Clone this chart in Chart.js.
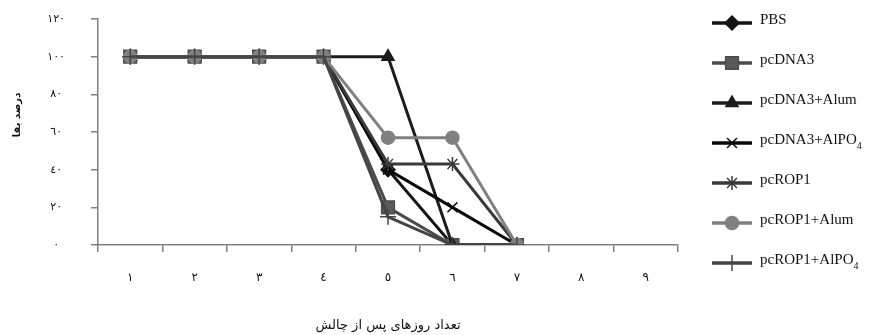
<!DOCTYPE html>
<html lang="fa">
  <head>
    <meta charset="UTF-8" />
    <title>درصد بقا</title>
    <script src="https://cdn.jsdelivr.net/npm/chart.js@4.4.1/dist/chart.umd.min.js"></script>
    <style>
      body { margin: 0; background: #fff; }
      #box { width: 869px; height: 335px; position: relative; }
    </style>
  </head>
  <body>
    <div id="box"><canvas id="grafico"></canvas></div>
    <script>
      // روزها (محور افقی)
      const days = ['١', '٢', '٣', '٤', '٥', '٦', '٧', '٨', '٩'];
      const yTicks = [0, 20, 40, 60, 80, 100, 120];

      // درصد بقا برای هر گروه
      const pbs = [100, 100, 100, 100, 40, 0, 0, null, null];
      const pcdna3 = [100, 100, 100, 100, 20, 0, 0, null, null];
      const pcdna3Alum = [100, 100, 100, 100, 100, 0, 0, null, null];
      const pcdna3Alpo4 = [100, 100, 100, 100, 40, 20, 0, null, null];
      const pcrop1 = [100, 100, 100, 100, 43, 43, 0, null, null];
      const pcrop1Alum = [100, 100, 100, 100, 57, 57, 0, null, null];
      const pcrop1Alpo4 = [100, 100, 100, 100, 15, 0, 0, null, null];

      const names = ['PBS', 'pcDNA3', 'pcDNA3+Alum', 'pcDNA3+AlPO₄', 'pcROP1', 'pcROP1+Alum', 'pcROP1+AlPO₄'];

      const yTitle = 'درصد بقا';
      const xTitle = 'تعداد روزهای پس از چالش';

      function farsi(n) {
        return String(n).replace(/[0-9]/g, d => '٠١٢٣٤٥٦٧٨٩'[d]);
      }

      function serie(i, values, color, style, radius, fill) {
        return {
          label: names[i],
          data: values,
          borderColor: color,
          backgroundColor: fill || color,
          pointBackgroundColor: fill || color,
          pointBorderColor: color,
          pointBorderWidth: 1.5,
          borderWidth: 3,
          pointStyle: style,
          pointRadius: radius,
          pointHoverRadius: radius,
          tension: 0,
          order: 6 - i,
        };
      }

      const datasets = [
        serie(0, pbs, '#141414', 'rectRot', 7),
        serie(1, pcdna3, '#4b4b4b', 'rect', 9, '#5a5a5a'),
        serie(2, pcdna3Alum, '#1c1c1c', 'triangle', 7),
        serie(3, pcdna3Alpo4, '#0a0a0a', 'crossRot', 7),
        serie(4, pcrop1, '#3a3a3a', 'star', 7),
        serie(5, pcrop1Alum, '#808080', 'circle', 6.5),
        serie(6, pcrop1Alpo4, '#454545', 'cross', 8),
      ];

      // legend + y title drawn by hand
      const extras = {
        id: 'extras',
        afterDraw(chart) {
          const ctx = chart.ctx;
          ctx.save();
          chart.data.datasets.forEach((ds, i) => {
            const y = 23 + 40 * i;
            ctx.strokeStyle = ds.borderColor;
            ctx.lineWidth = 3.5;
            ctx.beginPath();
            ctx.moveTo(712, y);
            ctx.lineTo(752, y);
            ctx.stroke();
            ctx.fillStyle = ds.pointBackgroundColor;
            ctx.strokeStyle = ds.pointBorderColor;
            ctx.lineWidth = 1.5;
            Chart.helpers.drawPoint(ctx, { pointStyle: ds.pointStyle, radius: ds.pointRadius, rotation: 0, borderWidth: 1.5 }, 732, y);
            ctx.fillStyle = '#111';
            ctx.font = '15px "Liberation Serif", serif';
            ctx.textAlign = 'left';
            ctx.textBaseline = 'middle';
            let label = ds.label;
            if (label.endsWith('₄')) {
              label = label.slice(0, -1);
              ctx.fillText(label, 760, y - 3);
              const w = ctx.measureText(label).width;
              ctx.font = '10px "Liberation Serif", serif';
              ctx.fillText('4', 760 + w, y + 3);
            } else {
              ctx.fillText(label, 760, y - 3);
            }
          });
          ctx.translate(17, 115);
          ctx.rotate(-Math.PI / 2);
          ctx.font = 'bold 10px "DejaVu Sans", sans-serif';
          ctx.fillStyle = '#111';
          ctx.textAlign = 'center';
          ctx.textBaseline = 'middle';
          ctx.fillText(yTitle, 0, 0);
          ctx.restore();
        },
      };

      new Chart(document.getElementById('grafico'), {
        type: 'line',
        data: { labels: days, datasets: datasets },
        plugins: [extras],
        options: {
          responsive: true,
          maintainAspectRatio: false,
          animation: false,
          layout: { padding: { top: 19, right: 191, left: 0, bottom: 0 } },
          plugins: { legend: { display: false }, tooltip: { enabled: false } },
          scales: {
            x: {
              offset: true,
              grid: { offset: true, drawOnChartArea: false, drawTicks: true, tickLength: 7, color: '#808080', lineWidth: 1.5 },
              border: { color: '#808080', width: 1.5 },
              ticks: { color: '#111', padding: 19, font: { family: 'DejaVu Sans', size: 12 }, autoSkip: false, maxRotation: 0 },
              title: { display: true, text: xTitle, color: '#111', padding: { top: 4, bottom: 2 }, font: { family: 'DejaVu Sans', size: 13 } },
              afterFit(scale) { scale.height = 90; },
            },
            y: {
              min: 0,
              max: 120,
              afterBuildTicks(scale) { scale.ticks = yTicks.map(v => ({ value: v })); },
              grid: { drawOnChartArea: false, drawTicks: true, tickLength: 7, color: '#808080', lineWidth: 1.5 },
              border: { color: '#808080', width: 1.5 },
              ticks: { color: '#111', padding: 26, crossAlign: 'center', font: { family: 'DejaVu Sans', size: 11 }, callback: v => farsi(v) },
              afterFit(scale) {
                scale.width = 98;
                scale.paddingTop = 0;
                scale.paddingBottom = 0;
              },
            },
          },
        },
      });
    </script>
  </body>
</html>
